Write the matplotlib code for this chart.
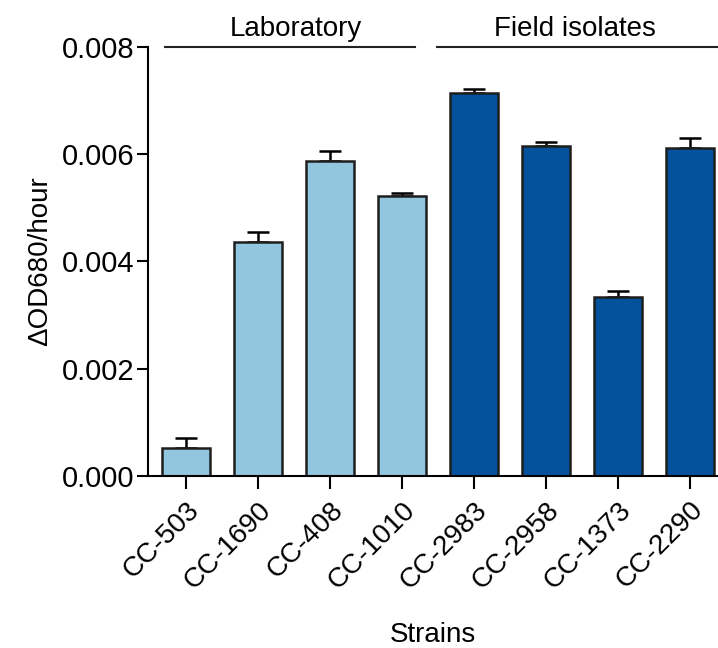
import numpy as np
import matplotlib
matplotlib.use('Agg')
import matplotlib.pyplot as plt

strains = ['CC-503', 'CC-1690', 'CC-408', 'CC-1010',
           'CC-2983', 'CC-2958', 'CC-1373', 'CC-2290']
rates = [0.00052, 0.00436, 0.00587, 0.00521,
         0.00713, 0.00615, 0.00333, 0.00611]
errors = [0.00018, 0.00018, 0.00018, 0.00006,
          0.00008, 0.00007, 0.00012, 0.00018]
groups = ['Laboratory'] * 4 + ['Field isolates'] * 4
group_colors = {'Laboratory': '#92c5de', 'Field isolates': '#04529c'}

plt.rcParams['font.family'] = ['Liberation Sans', 'DejaVu Sans']

fig = plt.figure(figsize=(7.18, 6.48), dpi=100)
ax = fig.add_axes([0.206, 0.2654, 0.794, 0.6628])

x = np.arange(len(strains))
colors = [group_colors[g] for g in groups]
ax.bar(x, rates, width=0.67, color=colors, edgecolor='#1e1e1e', linewidth=1.8, zorder=2)
ax.errorbar(x, rates, yerr=[np.zeros(len(errors)), errors], fmt='none',
            ecolor='black', elinewidth=1.8, capsize=8, capthick=1.8, zorder=1)

ax.set_xlim(-0.53, 7.39)
ax.set_ylim(0, 0.008)
ax.set_yticks([0, 0.002, 0.004, 0.006, 0.008])
ax.set_yticklabels(['0.000', '0.002', '0.004', '0.006', '0.008'], fontsize=21)
ax.set_xticks(x)
ax.set_xticklabels(strains, rotation=45, ha='right', rotation_mode='anchor', fontsize=20)
ax.tick_params(axis='y', length=8, width=1.5, pad=2)
ax.tick_params(axis='x', length=9, width=1.5, pad=6)

for side in ['top', 'right']:
    ax.spines[side].set_visible(False)
for side in ['left', 'bottom']:
    ax.spines[side].set_linewidth(1.5)

ax.set_ylabel('\u0394OD680/hour', fontsize=20, labelpad=6)
ax.set_xlabel('Strains', fontsize=20, labelpad=20)

# group brackets above the bars
for name, x0, x1, xt in [('Laboratory', -0.29, 3.18, 1.53), ('Field isolates', 3.49, 7.39, 5.4)]:
    ax.plot([x0, x1], [0.008, 0.008], color='#222222', lw=1.5, clip_on=False)
    ax.text(xt, 0.00808, name, ha='center', va='bottom', fontsize=20)

fig.savefig('out.png', dpi=100)
